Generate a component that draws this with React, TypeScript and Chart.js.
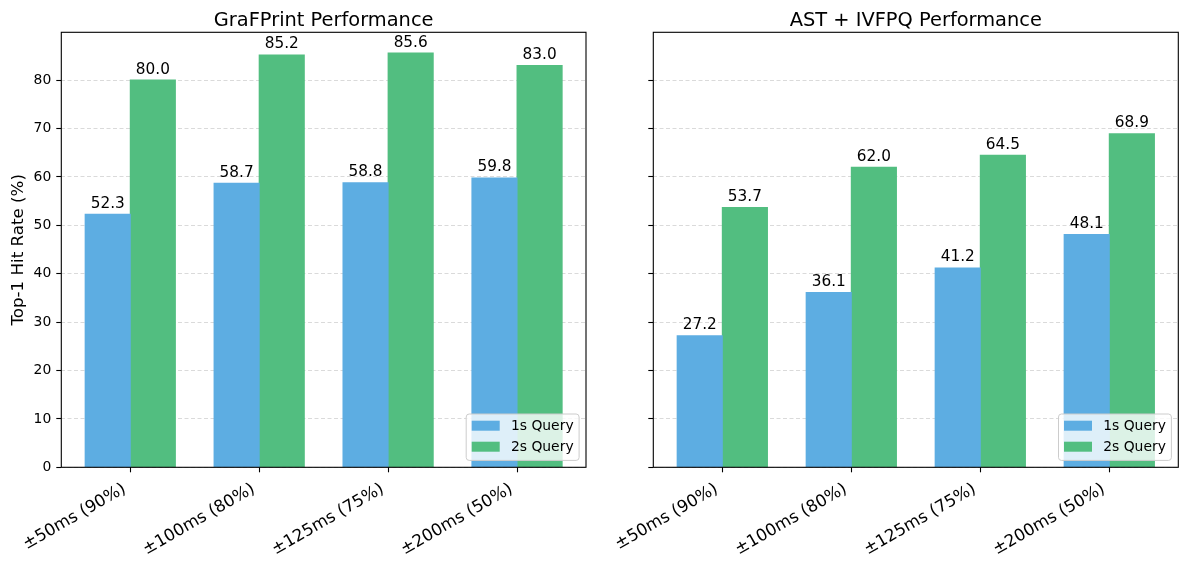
import React, { useEffect, useRef } from "react";
import { Chart, registerables } from "chart.js";

Chart.register(...registerables);

// ---------------- data ----------------
const categories = ["±50ms (90%)", "±100ms (80%)", "±125ms (75%)", "±200ms (50%)"];
const seriesNames = ["1s Query", "2s Query"];
const grafprint1s = [52.3, 58.7, 58.8, 59.8];
const grafprint2s = [80.0, 85.2, 85.6, 83.0];
const ast1s = [27.2, 36.1, 41.2, 48.1];
const ast2s = [53.7, 62.0, 64.5, 68.9];
const panelTitles = ["GraFPrint Performance", "AST + IVFPQ Performance"];
const yTicks = [0, 10, 20, 30, 40, 50, 60, 70, 80];
const yAxisLabel = "Top-1 Hit Rate (%)";

// ---------------- style ----------------
const FONT = "'DejaVu Sans', 'Liberation Sans', sans-serif";
const BLUE = "#5DADE2";
const GREEN = "#52BE80";
const W = 1188;
const H = 565;
const HALF = 594;
const AX_TOP = 32.3;
const AX_BOTTOM = 467.3;
const GROUP = 0.7;

const allValues = [...grafprint1s, ...grafprint2s, ...ast1s, ...ast2s];
const yMax = Math.max(...allValues) * 1.05;
const xLo = -GROUP / 2;
const xHi = categories.length - 1 + GROUP / 2;
const xMin = xLo - 0.05 * (xHi - xLo);
const xMax = xHi + 0.05 * (xHi - xLo);

type Panel = {
  title: string;
  s1: number[];
  s2: number[];
  yWidth: number;
  padRight: number;
  showYTicks: boolean;
  showYLabel: boolean;
};

const panels: Panel[] = [
  { title: panelTitles[0], s1: grafprint1s, s2: grafprint2s, yWidth: 61.3, padRight: HALF - 586, showYTicks: true, showYLabel: true },
  { title: panelTitles[1], s1: ast1s, s2: ast2s, yWidth: 653.3 - HALF, padRight: W - 1178.3, showYTicks: false, showYLabel: false },
];

function decorPlugin(p: Panel) {
  return {
    id: "decor",
    afterDatasetsDraw(chart: any) {
      const ctx: CanvasRenderingContext2D = chart.ctx;
      const area = chart.chartArea;
      ctx.save();

      // bar value labels
      ctx.fillStyle = "#000";
      ctx.font = `15.3px ${FONT}`;
      ctx.textAlign = "center";
      ctx.textBaseline = "alphabetic";
      chart.data.datasets.forEach((ds: any, di: number) => {
        const meta = chart.getDatasetMeta(di);
        meta.data.forEach((el: any, i: number) => {
          const v = ds.data[i].y as number;
          ctx.fillText(v.toFixed(1), el.x, el.y - 6.5);
        });
      });

      // frame
      ctx.strokeStyle = "#000";
      ctx.lineWidth = 1.1;
      ctx.setLineDash([]);
      ctx.strokeRect(area.left, area.top, area.right - area.left, area.bottom - area.top);

      // x tick labels (rotated 30°, right-aligned)
      const xs = chart.scales.x;
      const fs = 16.7;
      ctx.font = `${fs}px ${FONT}`;
      ctx.textAlign = "right";
      ctx.textBaseline = "top";
      const h = fs * 1.16;
      categories.forEach((c, i) => {
        const px = xs.getPixelForValue(i);
        ctx.save();
        ctx.translate(px - h / 2, area.bottom + 5 + 4.9 + 3.5);
        ctx.rotate(-Math.PI / 6);
        ctx.fillText(c, 0, 0);
        ctx.restore();
      });

      // title
      ctx.font = `19.4px ${FONT}`;
      ctx.textAlign = "center";
      ctx.textBaseline = "alphabetic";
      ctx.fillText(p.title, (area.left + area.right) / 2, 26);

      // y label
      if (p.showYLabel) {
        ctx.save();
        ctx.font = `16.7px ${FONT}`;
        ctx.translate(22.7, (area.top + area.bottom) / 2);
        ctx.rotate(-Math.PI / 2);
        ctx.textAlign = "center";
        ctx.textBaseline = "alphabetic";
        ctx.fillText(yAxisLabel, 0, 0);
        ctx.restore();
      }

      // legend (lower right)
      ctx.font = `13.9px ${FONT}`;
      const tw = Math.max(...seriesNames.map((s) => ctx.measureText(s).width));
      const bw = 5.5 + 28 + 11.2 + tw + 5.5;
      const bh = 46.4;
      const bx = area.right - 6.9 - bw;
      const by = area.bottom - 6.9 - bh;
      const r = 3;
      ctx.beginPath();
      ctx.moveTo(bx + r, by);
      ctx.lineTo(bx + bw - r, by);
      ctx.arcTo(bx + bw, by, bx + bw, by + r, r);
      ctx.lineTo(bx + bw, by + bh - r);
      ctx.arcTo(bx + bw, by + bh, bx + bw - r, by + bh, r);
      ctx.lineTo(bx + r, by + bh);
      ctx.arcTo(bx, by + bh, bx, by + bh - r, r);
      ctx.lineTo(bx, by + r);
      ctx.arcTo(bx, by, bx + r, by, r);
      ctx.closePath();
      ctx.fillStyle = "rgba(255,255,255,0.8)";
      ctx.fill();
      ctx.strokeStyle = "#cccccc";
      ctx.lineWidth = 1;
      ctx.stroke();
      const colors = [BLUE, GREEN];
      seriesNames.forEach((s, i) => {
        const hy = by + 6.7 + i * 21;
        ctx.fillStyle = colors[i];
        ctx.fillRect(bx + 5.5, hy, 28, 10);
        ctx.fillStyle = "#000";
        ctx.textAlign = "left";
        ctx.textBaseline = "middle";
        ctx.fillText(s, bx + 5.5 + 28 + 11.2, hy + 5.5);
      });

      ctx.restore();
    },
  };
}

function makeConfig(p: Panel): any {
  return {
    type: "bar",
    data: {
      datasets: [
        { label: seriesNames[0], data: p.s1.map((v, i) => ({ x: i, y: v })), backgroundColor: BLUE, borderWidth: 0, inflateAmount: 0.5 },
        { label: seriesNames[1], data: p.s2.map((v, i) => ({ x: i, y: v })), backgroundColor: GREEN, borderWidth: 0, inflateAmount: 0.5 },
      ],
    },
    options: {
      responsive: false,
      animation: false,
      devicePixelRatio: 1,
      layout: { padding: { left: 0, right: p.padRight, top: AX_TOP, bottom: 0 } },
      datasets: { bar: { categoryPercentage: GROUP, barPercentage: 1.0, grouped: true } },
      plugins: {
        legend: { display: false },
        tooltip: { enabled: false },
        title: { display: false },
      },
      scales: {
        x: {
          type: "linear",
          min: xMin,
          max: xMax,
          offset: false,
          afterBuildTicks: (s: any) => {
            s.ticks = categories.map((_, i) => ({ value: i }));
          },
          afterFit: (s: any) => {
            s.height = H - AX_BOTTOM;
          },
          ticks: { display: false, autoSkip: false },
          grid: {
            display: true,
            drawOnChartArea: false,
            drawTicks: true,
            tickLength: 5,
            tickColor: "#000",
            tickWidth: 1.1,
            offset: false,
          },
          border: { display: false },
        },
        y: {
          type: "linear",
          min: 0,
          max: yMax,
          afterBuildTicks: (s: any) => {
            s.ticks = yTicks.map((v) => ({ value: v }));
          },
          afterFit: (s: any) => {
            s.width = p.yWidth;
          },
          ticks: {
            display: p.showYTicks,
            padding: 5,
            color: "#000",
            font: { family: FONT, size: 13.9 },
            callback: (v: any) => String(v),
          },
          grid: {
            display: true,
            drawOnChartArea: true,
            drawTicks: true,
            color: "rgba(176,176,176,0.6)",
            lineWidth: 0.8,
            tickLength: 5,
            tickColor: "#000",
            tickWidth: 1.1,
            tickBorderDash: [],
            borderDash: [4, 2.5],
          },
          border: { display: false, dash: [4, 2.5] },
        },
      },
    },
    plugins: [decorPlugin(p)],
  };
}

export default function App() {
  const leftRef = useRef<HTMLCanvasElement>(null);
  const rightRef = useRef<HTMLCanvasElement>(null);

  useEffect(() => {
    const c1 = new Chart(leftRef.current as HTMLCanvasElement, makeConfig(panels[0]));
    const c2 = new Chart(rightRef.current as HTMLCanvasElement, makeConfig(panels[1]));
    return () => {
      c1.destroy();
      c2.destroy();
    };
  }, []);

  return (
    <div style={{ position: "absolute", left: 0, top: 0, width: W, height: H, background: "#fff" }}>
      <canvas ref={leftRef} width={HALF} height={H} style={{ position: "absolute", left: 0, top: 0, width: HALF, height: H }} />
      <canvas ref={rightRef} width={W - HALF} height={H} style={{ position: "absolute", left: HALF, top: 0, width: W - HALF, height: H }} />
    </div>
  );
}
